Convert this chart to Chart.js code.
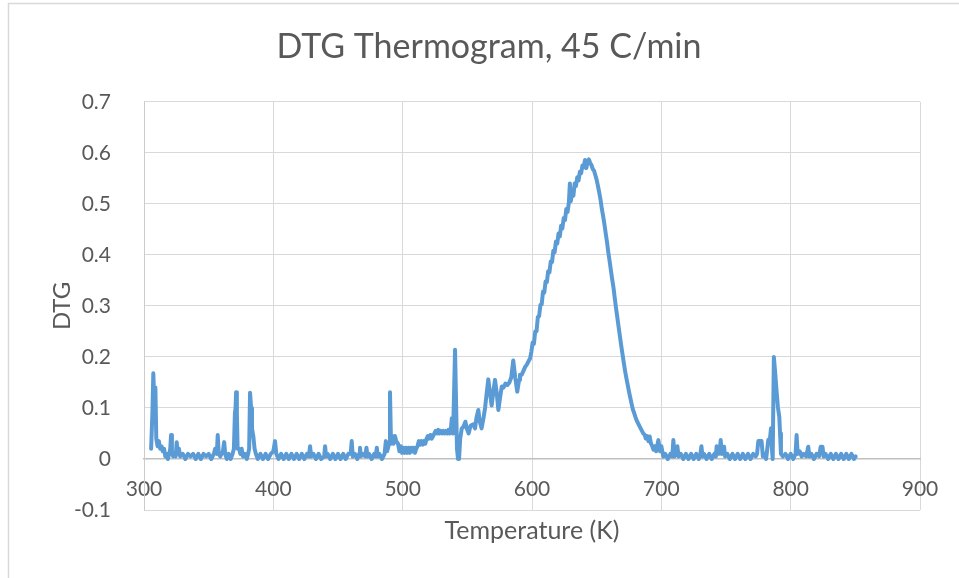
<!DOCTYPE html>
<html>
<head>
<meta charset="utf-8">
<title>DTG Thermogram, 45 C/min</title>
<script src="https://cdn.jsdelivr.net/npm/chart.js@4/dist/chart.umd.min.js"></script>
<style>
    html, body { margin: 0; padding: 0; background: #ffffff; }
    #wrap { position: relative; width: 959px; height: 578px; }
</style>
</head>
<body>
<div id="wrap"><canvas id="dtgChart" width="959" height="578"></canvas></div>
<script>
// Temperature (K) and DTG readings, split by region of the curve
const earlyTemps = [
    305.5, 306.5, 307.2, 308, 308.8, 309.5, 310.5, 311.5, 312.5, 313.5, 314.5, 315.5, 316.5,
    317.5, 318.5, 319.5, 320.3, 320.9, 321.6, 322.5, 323.5, 324.5, 325.3, 326, 327, 328,
    330, 332, 334, 336, 338, 340, 342, 344, 346, 348, 350, 352, 354,
    355, 356.3, 357, 357.8, 359, 360, 361, 362, 362.8, 364, 365.5, 367, 368.5, 369.5,
    370.3, 370.8, 371.2, 371.8, 372.4, 373.5, 374.5, 375.5, 376.5, 378, 379.5, 380.5,
    381.3, 382, 382.8, 383.5, 384.5, 385.5, 386.5,
    388, 390, 392, 394, 396, 398, 400, 401.3, 402.3,
    404, 406, 408, 410, 412, 414, 416, 418, 420, 422, 424, 426, 427.5, 428.4, 429.3,
    431, 433, 435, 437, 439.3, 440, 440.8,
    442, 444, 446, 448, 450, 452, 454, 456, 458, 459.8, 460.6, 461.4,
    463, 465, 466.3, 467, 467.7, 469, 471, 472, 472.8, 474, 476, 478, 479.3, 480, 480.8,
    482, 484, 486, 487, 488, 489.5
];
const earlyDtg = [
    0.02, 0.09, 0.168, 0.11, 0.14, 0.04, 0.025, 0.035, 0.02, 0.025, 0.015, 0.02, 0.005,
    0.01, 0, 0.01, 0.02, 0.047, 0.015, 0.005, 0.01, 0.005, 0.033, 0.01, 0.02, 0.005,
    0.01, 0, 0.01, 0.005, 0.01, 0, 0.01, 0, 0.01, 0.005, 0.01, 0, 0.01,
    0.02, 0.01, 0.047, 0.01, 0.005, 0.01, 0.015, 0.033, 0.01, 0, 0.01, 0, 0.01, 0.02,
    0.09, 0.1, 0.131, 0.09, 0.02, 0.02, 0.01, 0.02, 0.005, 0.01, 0, 0.01,
    0.02, 0.13, 0.1, 0.06, 0.045, 0.02, 0.01,
    0, 0.01, 0, 0.01, 0, 0.01, 0.015, 0.035, 0.01,
    0, 0.01, 0, 0.01, 0, 0.01, 0, 0.01, 0, 0.01, 0, 0.01, 0.005, 0.025, 0.005,
    0.01, 0, 0.01, 0, 0.005, 0.025, 0.005,
    0.01, 0, 0.01, 0, 0.01, 0, 0.01, 0, 0.01, 0.01, 0.035, 0.005,
    0.01, 0, 0.01, 0.022, 0.005, 0.01, 0.005, 0.022, 0.005, 0.01, 0, 0.01, 0.005, 0.022, 0.005,
    0.01, 0, 0.01, 0.035, 0.015, 0.03
];

const shoulderTemps = [
    490.2, 491, 492, 493, 494, 495, 496.4,
    497.5, 498.5, 499.5, 500.5, 501.5, 502.5, 503.5, 504.5, 505.5, 506.5,
    507.5, 508.5, 509.5, 510.5, 511.5, 512.5, 513.5, 514.5, 515.5, 516.5,
    517.5, 518.5, 519.5, 520.5, 521.5, 522.5, 523.5, 524.5, 525.5, 526.5,
    527.5, 528.5, 529.5, 530.5, 531.5, 532.5, 533.5, 534.5, 535.5, 536.5,
    537.3, 538, 539, 540.5,
    542, 542.8, 543.6, 544.5, 545.7, 547, 548.5, 549.5, 551, 552.5,
    554.6, 556, 557, 558.5, 559.5, 561, 562.5, 563.7, 565, 566.2,
    567.5, 568.8, 570, 571.4, 572.7, 574, 575.3, 576.6, 578, 579.5,
    581, 582.5, 584, 585.5, 587, 588.6, 590, 590.7, 592, 593.3,
    594.6, 596, 597, 598.5
];
const shoulderDtg = [
    0.131, 0.03, 0.045, 0.03, 0.045, 0.035, 0.03,
    0.015, 0.025, 0.012, 0.022, 0.012, 0.022, 0.012, 0.022, 0.012, 0.022,
    0.015, 0.022, 0.012, 0.02, 0.025, 0.035, 0.028, 0.035, 0.028, 0.035,
    0.03, 0.04, 0.045, 0.04, 0.047, 0.04, 0.045, 0.05, 0.055, 0.05,
    0.057, 0.05, 0.055, 0.05, 0.055, 0.05, 0.055, 0.05, 0.057, 0.05,
    0.06, 0.08, 0.05, 0.214,
    0.02, 0, 0, 0.04, 0.06, 0.063, 0.073, 0.06, 0.05, 0.065,
    0.068, 0.06, 0.08, 0.096, 0.075, 0.06, 0.08, 0.1, 0.13, 0.156,
    0.13, 0.105, 0.13, 0.155, 0.13, 0.096, 0.12, 0.142, 0.14, 0.148,
    0.145, 0.15, 0.16, 0.193, 0.16, 0.132, 0.155, 0.165, 0.165, 0.172,
    0.18, 0.185, 0.19, 0.197
];

const peakTemps = [
    599.5, 600.5, 601.5, 602.5, 603.5, 604.5, 605.5, 606.5, 607.5, 608.5,
    609.5, 610.5, 611.5, 612.5, 613.5, 614.5, 615.5, 616.5, 617.5, 618.5,
    619.5, 620.5, 621.5, 622.5, 623.5, 624.5, 625.5, 626.5, 627.5, 628.5,
    629.3, 630, 631, 632, 633, 634, 635, 636, 637, 638, 639,
    640, 641, 642, 643, 644, 645, 646, 647, 648, 649,
    650, 651, 652, 653, 654, 655, 656, 657, 658, 659,
    660, 661, 662, 663, 664, 665, 666, 667, 668, 669,
    670, 671, 672, 673, 674, 675, 676, 677, 678, 679,
    680, 681, 682, 683, 684, 685, 686, 687, 688, 689,
    690, 691, 692, 693, 694, 695, 696, 697.7, 699, 700
];
const peakDtg = [
    0.21, 0.228, 0.226, 0.25, 0.25, 0.278, 0.28, 0.302, 0.303, 0.328,
    0.326, 0.348, 0.347, 0.368, 0.366, 0.387, 0.386, 0.408, 0.405, 0.426,
    0.422, 0.442, 0.436, 0.457, 0.452, 0.472, 0.468, 0.49, 0.484, 0.502,
    0.54, 0.505, 0.522, 0.516, 0.54, 0.535, 0.552, 0.546, 0.563, 0.56, 0.575,
    0.572, 0.586, 0.57, 0.582, 0.587, 0.58, 0.576, 0.568, 0.565, 0.556,
    0.547, 0.535, 0.522, 0.508, 0.49, 0.476, 0.46, 0.442, 0.425, 0.405,
    0.388, 0.37, 0.352, 0.336, 0.315, 0.295, 0.277, 0.258, 0.24, 0.222,
    0.205, 0.188, 0.172, 0.158, 0.145, 0.132, 0.12, 0.108, 0.097, 0.09,
    0.082, 0.075, 0.07, 0.065, 0.06, 0.055, 0.05, 0.048, 0.04, 0.045,
    0.035, 0.044, 0.03, 0.025, 0.018, 0.025, 0.015, 0.037, 0.015, 0.025
];

const lateTemps = [
    701.5, 703, 705, 707, 708.5, 709.3, 710.2, 711.5, 712.4, 713.3,
    715, 717, 719, 721, 723, 725, 727, 729, 730.2, 731,
    731.8, 733, 735, 737, 739, 741, 742.2, 742.8, 743.6, 745,
    745.9, 746.8, 748.5, 749.3, 751, 753, 755, 757, 759, 761,
    763, 765, 767, 769, 771, 773, 774, 775, 777.5, 778.5,
    780, 781, 782.7, 784, 784.8, 785.5, 786.1, 787, 788, 789.2,
    790.2, 791.2, 791.8, 792.5, 794, 796, 798, 800, 802, 803.8,
    804.6, 805.4, 807, 808.5, 810, 812, 813.6, 814.5, 816, 818,
    820, 822, 823.2, 824.6, 825.5, 827, 829, 831, 833, 835,
    837, 839, 841, 843, 845, 847, 849, 850.3
];
const lateDtg = [
    0.005, 0.01, 0, 0.01, 0.005, 0.037, 0.005, 0.01, 0.025, 0.005,
    0.01, 0, 0.01, 0, 0.01, 0, 0.01, 0, 0.01, 0.025,
    0.005, 0.01, 0, 0.01, 0, 0.01, 0.005, 0.025, 0.01, 0.01,
    0.037, 0.01, 0.024, 0.005, 0.01, 0, 0.01, 0, 0.01, 0,
    0.01, 0, 0.01, 0, 0.01, 0.005, 0.01, 0.035, 0.035, 0.005,
    0.01, 0, 0.037, 0.04, 0.06, 0.02, 0, 0.2, 0.17, 0.13,
    0.1, 0.083, 0.05, 0.01, 0.005, 0.01, 0, 0.01, 0, 0.01,
    0.047, 0.01, 0.015, 0.005, 0.01, 0.005, 0.024, 0.005, 0.01, 0,
    0.01, 0.005, 0.024, 0.024, 0.005, 0.01, 0, 0.01, 0, 0.01,
    0, 0.01, 0, 0.01, 0, 0.01, 0, 0.005
];

const xTicks = [300, 400, 500, 600, 700, 800, 900];
const yTicks = [-0.1, 0, 0.1, 0.2, 0.3, 0.4, 0.5, 0.6, 0.7];

const temps = earlyTemps.concat(shoulderTemps, peakTemps, lateTemps);
const dtg = earlyDtg.concat(shoulderDtg, peakDtg, lateDtg);
const points = temps.map((t, i) => ({ x: t, y: dtg[i] }));

const textColor = '#595959';
const fontFamily = 'Lato, "Open Sans", sans-serif';

// light frame round the chart, as in the spreadsheet export
const framePlugin = {
    id: 'frame',
    beforeDraw(chart) {
        const ctx = chart.ctx;
        ctx.save();
        ctx.strokeStyle = '#d9d9d9';
        ctx.lineWidth = 1.5;
        ctx.beginPath();
        ctx.moveTo(8.5, chart.height);
        ctx.lineTo(8.5, 3.5);
        ctx.lineTo(chart.width, 3.5);
        ctx.stroke();
        ctx.restore();
    }
};

new Chart(document.getElementById('dtgChart'), {
    type: 'line',
    data: {
        datasets: [{
            label: 'DTG',
            data: points,
            borderColor: '#5B9BD5',
            borderWidth: 4,
            borderJoinStyle: 'round',
            borderCapStyle: 'round',
            pointRadius: 0,
            tension: 0,
            fill: false
        }]
    },
    plugins: [framePlugin],
    options: {
        responsive: false,
        animation: false,
        layout: {
            padding: { left: 58, right: 39, top: 0, bottom: 68 }
        },
        plugins: {
            legend: { display: false },
            tooltip: { enabled: false },
            title: {
                display: true,
                text: 'DTG Thermogram, 45 C/min',
                color: textColor,
                font: { family: fontFamily, size: 34, weight: 'normal' },
                padding: { top: 27, bottom: 34 }
            }
        },
        scales: {
            x: {
                type: 'linear',
                position: { y: 0 },
                min: 300,
                max: 900,
                afterBuildTicks: (scale) => {
                    scale.ticks = xTicks.map(v => ({ value: v }));
                },
                afterFit: (scale) => {
                    scale.height = 87;
                },
                ticks: {
                    color: textColor,
                    font: { family: fontFamily, size: 21 },
                    padding: 18,
                    maxRotation: 0
                },
                grid: { color: '#d9d9d9', drawTicks: false },
                border: { display: true, color: '#bfbfbf', width: 1.5 },
                title: {
                    display: true,
                    text: 'Temperature (K)',
                    color: textColor,
                    font: { family: fontFamily, size: 25 },
                    padding: { top: 0, bottom: 0 }
                }
            },
            y: {
                min: -0.1,
                max: 0.7,
                afterBuildTicks: (scale) => {
                    scale.ticks = yTicks.map(v => ({ value: v }));
                },
                afterFit: (scale) => {
                    scale.width = 86;
                },
                ticks: {
                    color: textColor,
                    font: { family: fontFamily, size: 21 },
                    padding: 33,
                    callback: (v) => String(Math.round(v * 10) / 10)
                },
                grid: { color: '#d9d9d9', drawTicks: false },
                border: { display: true, color: '#cccccc' },
                title: {
                    display: true,
                    text: 'DTG',
                    color: textColor,
                    font: { family: fontFamily, size: 24 },
                    padding: { top: -10, bottom: 0 }
                }
            }
        }
    }
});
</script>
</body>
</html>
